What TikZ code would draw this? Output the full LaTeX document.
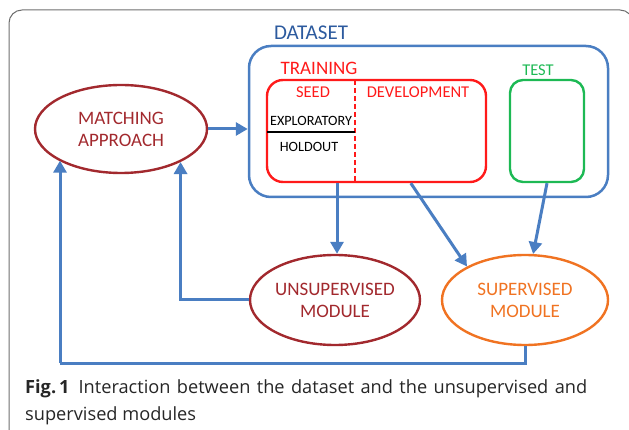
\documentclass[tikz,border=0pt]{standalone}
\usepackage{fontspec}
\setmainfont{Carlito}
\newfontfamily\capfont{Open Sans}
\usetikzlibrary{arrows.meta,shapes.geometric,calc}

\definecolor{frameGray}{HTML}{6E6E6E}
\definecolor{dataBlue}{HTML}{4A7EC2}
\definecolor{dataText}{HTML}{2C5A9E}
\definecolor{matchRed}{HTML}{A2292E}
\definecolor{trainRed}{HTML}{FF1A1A}
\definecolor{testGreen}{HTML}{1DB954}
\definecolor{supOrange}{HTML}{F07322}
\definecolor{capText}{HTML}{262626}

\tikzset{
  flow/.style={draw=dataBlue, line width=3pt, -{Triangle[length=12pt,width=13pt]}},
  rail/.style={draw=dataBlue, line width=3pt},
  module/.style={ellipse, line width=2.4pt, inner sep=0pt, align=center,
                 font=\fontsize{19}{22}\selectfont},
  label/.style={inner sep=0pt, font=\fontsize{16.5}{20}\selectfont},
  caption/.style={anchor=base west, inner sep=0pt, text=capText,
                  font=\capfont\fontsize{18.2}{22}\selectfont},
}

\begin{document}
\begin{tikzpicture}[x=1pt, y=-1pt]
  \useasboundingbox (0,0) rectangle (629,430);

  % figure frame
  \draw[frameGray, line width=1pt, rounded corners=13pt]
    (9,432) -- (9,10) -- (633,10) -- (633,432);

  % dataset container
  \node[draw=dataBlue, line width=2.5pt, rounded corners=22pt,
        minimum width=359pt, minimum height=151pt, inner sep=0pt]
        (dataset) at (428.5,121.5) {};
  \node[label, text=dataText, font=\fontsize{21}{24}\selectfont] (datasetlbl) at (311,33) {DATASET};

  % training partition
  \node[draw=trainRed, line width=2.4pt, rounded corners=16pt,
        minimum width=219pt, minimum height=102pt, inner sep=0pt]
        (training) at (376.5,131) {};
  \node[label, text=trainRed, font=\fontsize{19}{22}\selectfont] (traininglbl) at (319,68) {TRAINING};
  \coordinate (splitTop) at (355,80);
  \coordinate (splitBot) at (355,182);
  \draw[trainRed, line width=2.2pt, dash pattern=on 5pt off 3pt] (splitTop) -- (splitBot);
  \node[label, text=trainRed] (seed) at (313,92) {SEED};
  \node[label, text=trainRed] (dev) at (418,92) {DEVELOPMENT};
  \node[label, font=\fontsize{14.2}{17}\selectfont] (explo) at (311,121) {EXPLORATORY};
  \coordinate (cutL) at (267,132);
  \coordinate (cutR) at (355,132);
  \draw[black, line width=2pt] (cutL) -- (cutR);
  \node[label, font=\fontsize{14.2}{17}\selectfont] (hold) at (309,147) {HOLDOUT};

  % test partition
  \node[draw=testGreen, line width=2.4pt, rounded corners=13pt,
        minimum width=74pt, minimum height=102pt, inner sep=0pt]
        (test) at (547,131) {};
  \node[label, text=testGreen] (testlbl) at (538,70) {TEST};

  % modules
  \node[module, draw=matchRed, text=matchRed, minimum width=172pt, minimum height=88pt]
        (matching) at (121,129) {MATCHING\\APPROACH};
  \node[module, draw=matchRed, text=matchRed, minimum width=170pt, minimum height=90pt]
        (unsup) at (335,300) {UNSUPERVISED\\MODULE};
  \node[module, draw=supOrange, text=supOrange, minimum width=166pt, minimum height=90pt]
        (sup) at (525,300) {SUPERVISED\\MODULE};

  % connectors
  \draw[flow] (matching.east) -- (matching.east -| dataset.west);
  \draw[flow] (training.south -| 337,0) -- (337,0 |- unsup.north);
  \draw[flow] ($(training.south west)!0.655!(training.south east)$) -- (sup.150);
  \draw[flow] (test.south) -- (sup.80);
  \draw[flow] (unsup.west) -| (matching.331);
  \coordinate (lowrail) at (60,363);
  \draw[rail] (sup.south) |- (lowrail);
  \draw[flow] (lowrail) -- (lowrail |- matching.207);

  % caption (first line set justified)
  \node[caption] (cap1) at (25,393)
    {\makebox[562pt][s]{\textbf{Fig.\,1}\hspace{9pt}Interaction between the dataset and the unsupervised and}};
  \node[caption] (cap2) at (25,420) {supervised modules};
\end{tikzpicture}
\end{document}
